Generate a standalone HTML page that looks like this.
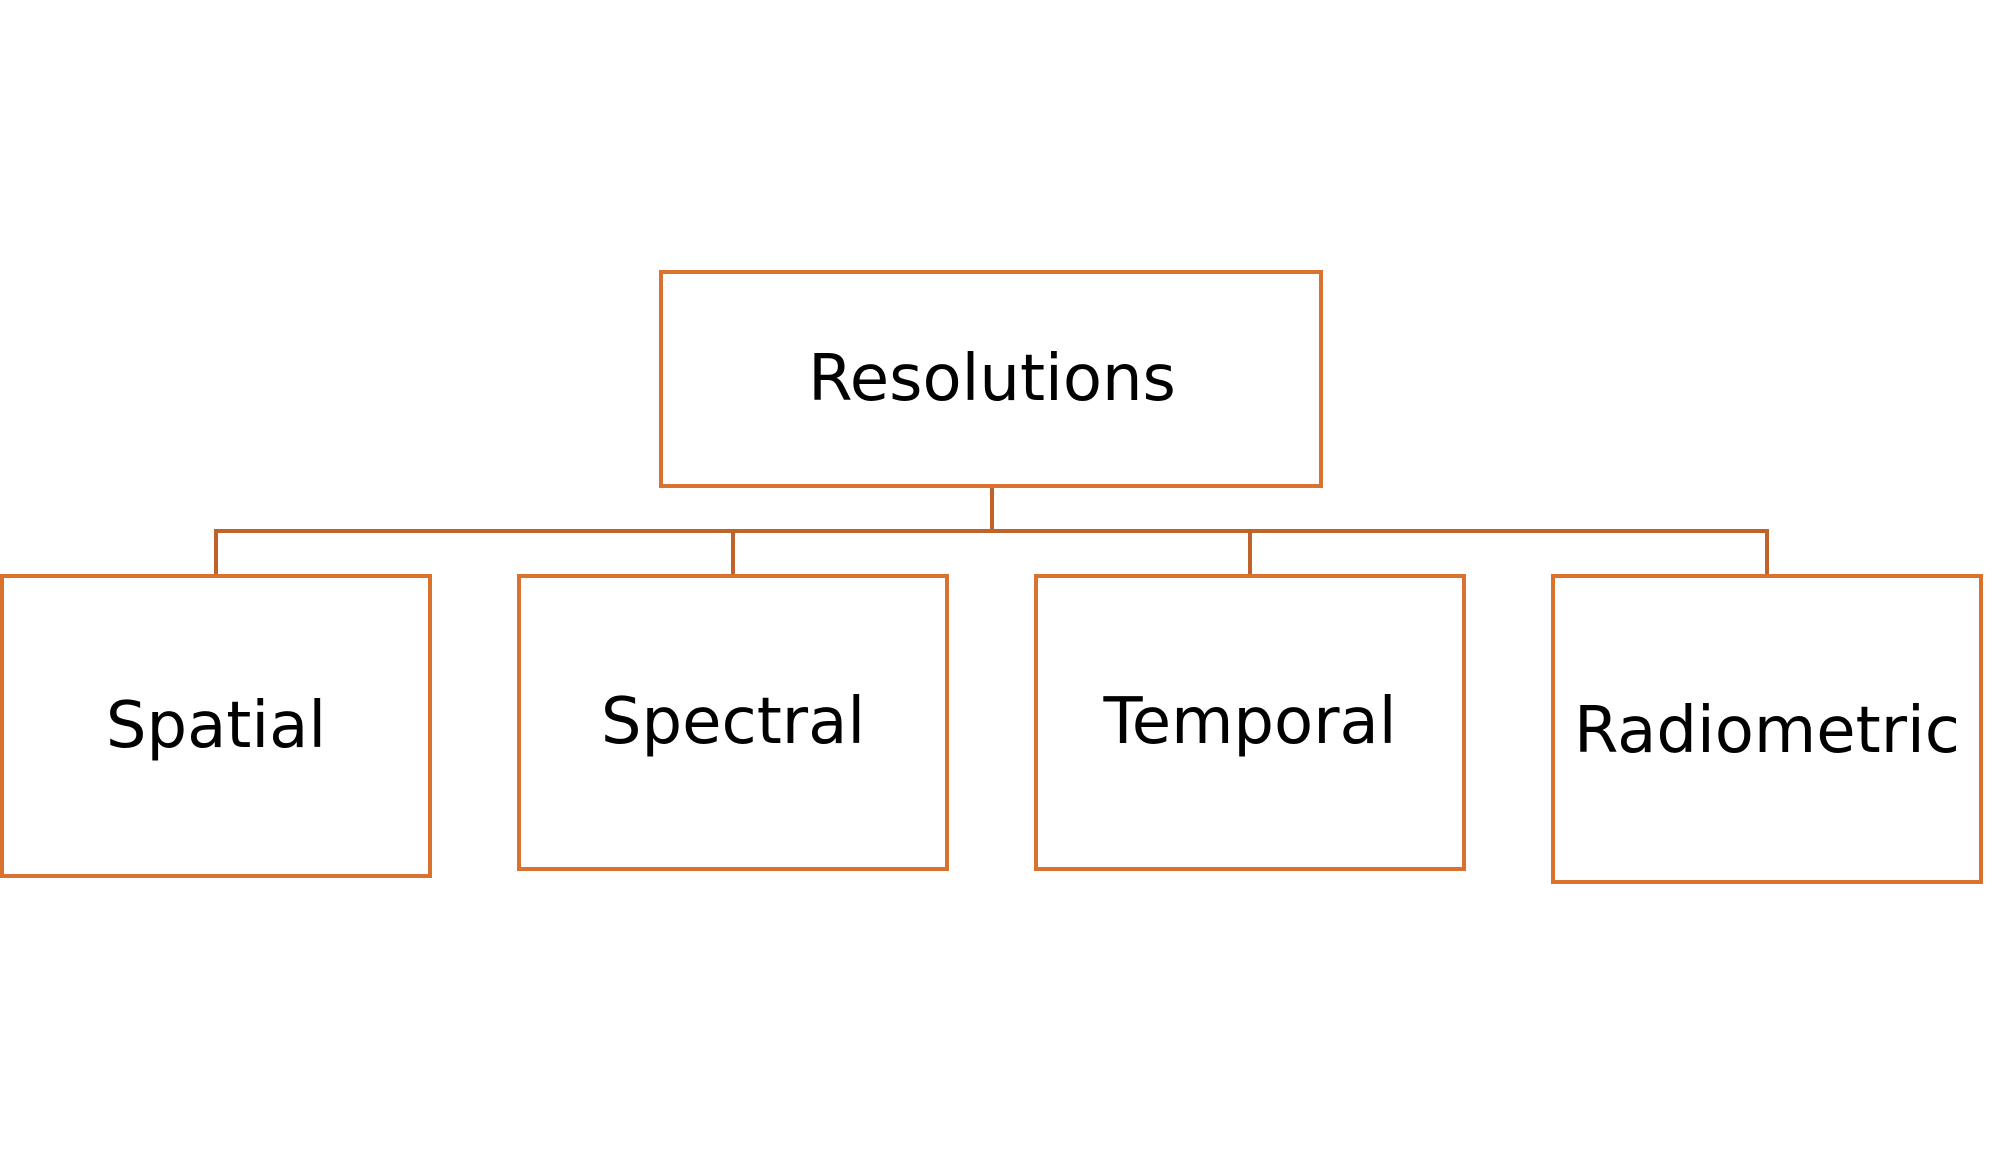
<!DOCTYPE html>
<html><head><meta charset="utf-8"><style>html,body{margin:0;padding:0;background:#fff}svg{display:block}</style></head>
<body>
<svg width="1996" height="1155" viewBox="0 0 1996 1155" xmlns="http://www.w3.org/2000/svg">
<g fill="none" stroke="#C0632A" stroke-width="4">
<path d="M992 486V531M216 575V531H1767V575M733 531V575M1250 531V575"/>
</g>
<g fill="#fff" stroke="#D9712F" stroke-width="4">
<rect x="661" y="272" width="660" height="214"/>
<rect x="2" y="576" width="428" height="300"/>
<rect x="519" y="576" width="428" height="293"/>
<rect x="1036" y="576" width="428" height="293"/>
<rect x="1553" y="576" width="428" height="306"/>
</g>
<g font-family="DejaVu Sans, Liberation Sans, sans-serif" font-size="64" fill="#000" text-anchor="middle">
<text x="992" y="400">Resolutions</text>
<text x="216" y="747">Spatial</text>
<text x="733" y="743">Spectral</text>
<text x="1250" y="743">Temporal</text>
<text x="1767" y="752">Radiometric</text>
</g>
</svg>
</body></html>
